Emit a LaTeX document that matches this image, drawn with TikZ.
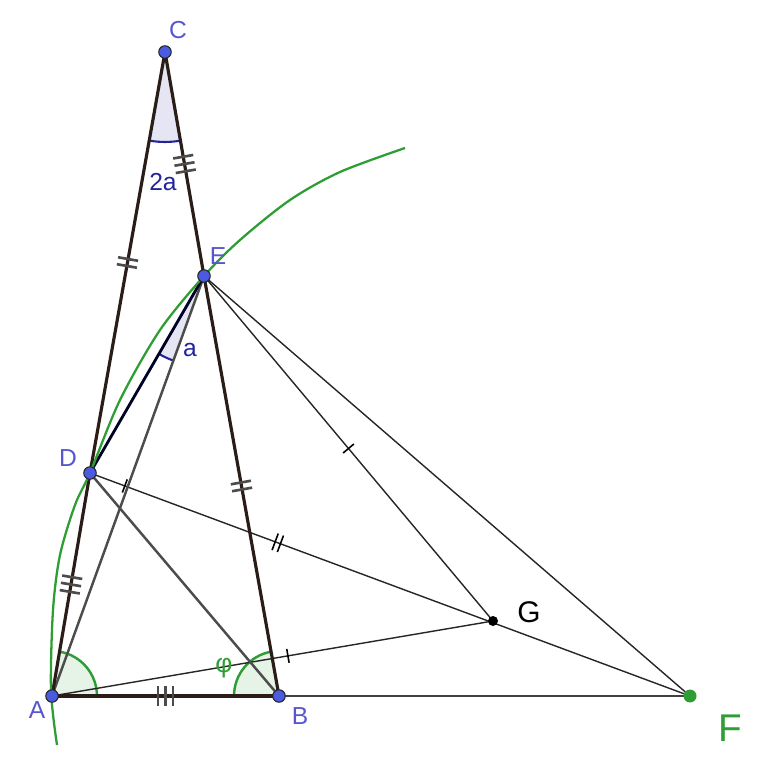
\documentclass[tikz,border=0pt]{standalone}
\usepackage{fontspec}
\setmainfont{Liberation Sans}
\usetikzlibrary{angles,calc,decorations.markings}
\definecolor{ptblue}{HTML}{4B5BE0}
\definecolor{lblblue}{HTML}{5656D2}
\definecolor{angblue}{HTML}{23239A}
\definecolor{ggreen}{HTML}{2E9E34}
\definecolor{sidebrown}{HTML}{2A1D17}
\tikzset{
    pt/.style={circle, fill=ptblue, draw=black!85, line width=0.6pt, inner sep=0pt, minimum size=0.25cm},
    lbl/.style={text=lblblue, font=\fontsize{14}{16}\selectfont},
    anglbl/.style={text=angblue, font=\fontsize{14}{16}\selectfont},
    side/.style={draw=sidebrown, line width=1.8pt},
    cev/.style={draw=black!70, line width=1.4pt},
    thinl/.style={draw=black!85, line width=0.8pt},
    % tick marks for equal segments
    bartick/.style={postaction={decorate, decoration={markings, mark=at position #1 with {
        \draw[black!70, line width=1.5pt] (-2pt,-5.8pt) -- (-2pt,5.8pt) (2pt,-5.8pt) -- (2pt,5.8pt);}}}},
    barticks/.style={postaction={decorate, decoration={markings, mark=at position #1 with {
        \draw[black!70, line width=1.5pt] (-4.2pt,-5.8pt) -- (-4.2pt,5.8pt) (0pt,-5.8pt) -- (0pt,5.8pt) (4.2pt,-5.8pt) -- (4.2pt,5.8pt);}}}},
    onetick/.style={postaction={decorate, decoration={markings, mark=at position #1 with {
        \draw[black, line width=0.9pt] (0pt,-4pt) -- (0pt,4pt);}}}},
    twotick/.style={postaction={decorate, decoration={markings, mark=at position #1 with {
        \draw[black, line width=0.9pt] (-1.6pt,-5pt) -- (-1.6pt,5pt) (1.6pt,-5pt) -- (1.6pt,5pt);}}}},
}
\begin{document}
\begin{tikzpicture}[x=0.02cm, y=0.02cm]
    \useasboundingbox (0,0) rectangle (774,761);

    % Points
    \coordinate (A) at (52,65);
    \coordinate (B) at (279,65);
    \coordinate (C) at (165,709);
    \coordinate (E) at (204,485);
    \coordinate (D) at (90,288);
    \coordinate (G) at (493,140);
    \coordinate (F) at (690,65);

    % Angles
    \pic [draw=angblue, fill=angblue!12, line width=1.2pt, angle radius=1.8cm] {angle=A--C--B};
    \pic [draw=angblue, fill=angblue!12, line width=1.2pt, angle radius=1.8cm] {angle=D--E--A};
    \pic [draw=ggreen, fill=ggreen!12, line width=1.4pt, angle radius=0.9cm] {angle=B--A--C};
    \pic [draw=ggreen, fill=ggreen!12, line width=1.4pt, angle radius=0.9cm] {angle=C--B--A};

    % Thin lines
    \draw [draw=black!75, line width=0.9pt] (B) -- (F);
    \draw [thinl, onetick=0.058, twotick=0.313] (D) -- (F);
    \draw [thinl, onetick=0.535] (A) -- (G);
    \draw [thinl, onetick=0.5] (E) -- (G);
    \draw [thinl] (E) -- (F);

    % Cevians
    \draw [cev] (A) -- (E);
    \draw [cev] (D) -- (B);
    \draw [draw=black!85!blue, line width=1.6pt] (D) -- (E);

    % Triangle
    \draw [side, barticks=0.5] (A) -- (D);
    \draw [side, bartick=0.5] (D) -- (C);
    \draw [side, barticks=0.5] (C) -- (E);
    \draw [side, bartick=0.5] (E) -- (B);
    \draw [side, barticks=0.5] (A) -- (B);

    % Green arc
    \draw [ggreen, line width=1.3pt] plot [smooth] coordinates {(57,16) (51,71) (53,151) (60,206) (75,256) (90,288) (120,361) (160,431) (204,485) (240,521) (290,561) (340,589) (405,613)};

    % Dots
    \foreach \p in {A,B,C,D,E} {
        \node [pt] at (\p) {};
    }
    \fill [black] (G) circle (5);
    \fill [ggreen] (F) circle (6.5);

    % Labels
    \node [lbl] at (178,731) {C};
    \node [lbl] at (218,505) {E};
    \node [lbl] at (68,303) {D};
    \node [lbl] at (37,51) {A};
    \node [lbl] at (300,45) {B};
    \node [anglbl] at (163,579) {2a};
    \node [anglbl] at (190,411) {a};
    \node [text=ggreen, font=\fontsize{15}{16}\selectfont] at (224,93) {φ};
    \node [font=\fontsize{17}{17}\selectfont] at (529,149) {G};
    \node [text=ggreen, font=\fontsize{22}{22}\selectfont] at (730,33) {F};
\end{tikzpicture}
\end{document}
